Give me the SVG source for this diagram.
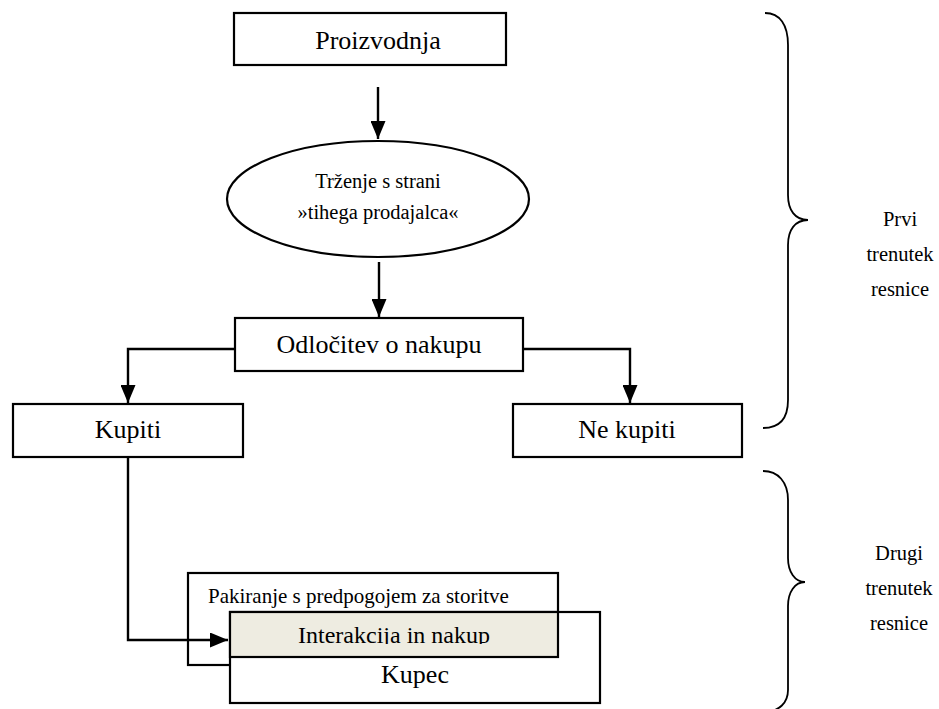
<svg xmlns="http://www.w3.org/2000/svg" width="939" height="709" viewBox="0 0 939 709">
  <style>
    .box { fill: #ffffff; stroke: #000000; stroke-width: 2.2; }
    .hl { fill: #EEECE1; stroke: #000000; stroke-width: 2.2; }
    .conn { fill: none; stroke: #000000; stroke-width: 2.4; }
    .brace { fill: none; stroke: #000000; stroke-width: 1.8; }
    text { font-family: "Liberation Serif", "Times New Roman", serif; fill: #000000; }
    .big { font-size: 26px; text-anchor: middle; }
    .mid { font-size: 20.5px; text-anchor: middle; }
    .side { font-size: 20.5px; text-anchor: middle; }
  </style>
  <defs>
    <marker id="arrow" viewBox="0 0 18 15" refX="18" refY="7.5" markerWidth="18" markerHeight="15" markerUnits="userSpaceOnUse" orient="auto">
      <path d="M0,0 L18,7.5 L0,15 z" fill="#000000"/>
    </marker>
    <clipPath id="clipInter">
      <rect x="230" y="612" width="328" height="32"/>
    </clipPath>
  </defs>
  <rect width="939" height="709" fill="#ffffff"/>

  <g id="n-proizvodnja">
    <rect class="box" x="234" y="13" width="272" height="52"/>
    <text class="big" x="378" y="49">Proizvodnja</text>
  </g>

  <g id="n-trzenje">
    <ellipse class="box" cx="378" cy="199" rx="151" ry="58"/>
    <text class="mid" x="378" y="188">Trženje s strani</text>
    <text class="mid" x="378" y="219">»tihega prodajalca«</text>
  </g>

  <g id="n-odlocitev">
    <rect class="box" x="235" y="318" width="288" height="53"/>
    <text class="big" x="379" y="353">Odločitev o nakupu</text>
  </g>

  <g id="n-kupiti">
    <rect class="box" x="13" y="404" width="230" height="53"/>
    <text class="big" x="128" y="438">Kupiti</text>
  </g>

  <g id="n-nekupiti">
    <rect class="box" x="513" y="404" width="229" height="53"/>
    <text class="big" x="627" y="438">Ne kupiti</text>
  </g>

  <g id="n-pakiranje">
    <rect class="box" x="188" y="573" width="370" height="92"/>
    <text x="208" y="603" style="font-size:21px">Pakiranje s predpogojem za storitve</text>
  </g>

  <g id="n-kupec">
    <rect class="box" x="230" y="612" width="370" height="91"/>
    <text class="big" x="415" y="683">Kupec</text>
  </g>

  <g id="n-interakcija">
    <rect class="hl" x="230" y="612" width="328" height="45"/>
    <text x="394" y="643" clip-path="url(#clipInter)" style="font-size:24px;text-anchor:middle">Interakcija in nakup</text>
  </g>

  <g id="connectors">
    <line class="conn" x1="378" y1="87" x2="378" y2="139" marker-end="url(#arrow)"/>
    <line class="conn" x1="379" y1="262" x2="379" y2="317" marker-end="url(#arrow)"/>
    <polyline class="conn" points="235,349 128,349 128,403" marker-end="url(#arrow)"/>
    <polyline class="conn" points="523,349 630,349 630,403" marker-end="url(#arrow)"/>
    <polyline class="conn" points="128,457 128,640 228,640" marker-end="url(#arrow)"/>
  </g>

  <g id="brace-prvi">
    <path class="brace" d="M765 13 C780 13 788 25 788 45 L788 195 C788 210 795 220 808 220 C795 220 788 230 788 245 L788 400 C788 418 780 428 763 428"/>
    <text class="side" x="900" y="226">Prvi</text>
    <text class="side" x="900" y="261">trenutek</text>
    <text class="side" x="900" y="296">resnice</text>
  </g>

  <g id="brace-drugi">
    <path class="brace" d="M763 471 C778 471 788 482 788 500 L788 558 C788 572 795 582 805 582 C795 582 788 592 788 606 L788 690 C788 702 780 712 763 712"/>
    <text class="side" x="899" y="560">Drugi</text>
    <text class="side" x="899" y="595">trenutek</text>
    <text class="side" x="899" y="630">resnice</text>
  </g>
</svg>
